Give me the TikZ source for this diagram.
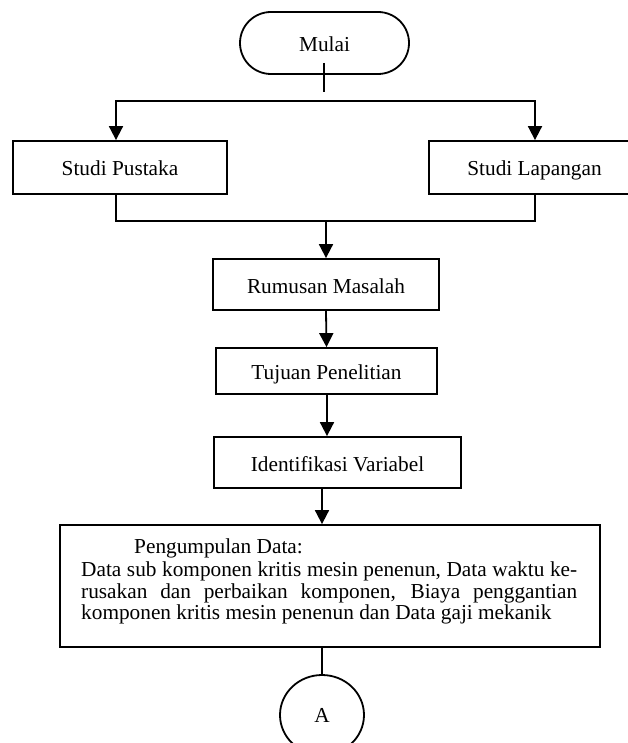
\documentclass[tikz,border=0pt]{standalone}
\usepackage{fontspec}
\setmainfont{Liberation Serif}
\usetikzlibrary{arrows.meta,shapes.geometric}
\newcommand\diagfs{\fontsize{21.3}{24}\selectfont}
\begin{document}
\begin{tikzpicture}[x=1pt,y=-1pt,
  every node/.style={font=\diagfs},
  box/.style={draw, line width=1.8pt, rectangle, inner sep=0pt, text height=19pt, text depth=2pt},
  conn/.style={line width=1.8pt},
  arr/.style={conn, -{Triangle[width=14pt,length=14pt]}},
  dblarr/.style={conn, {Triangle[width=14pt,length=14pt]}-{Triangle[width=14pt,length=14pt]}},
  txt/.style={anchor=base west, inner sep=0pt}
]
\useasboundingbox (0,0) rectangle (628,743);
% nodes
\node[box, rounded corners=31pt, minimum width=169pt, minimum height=62pt] (mulai) at (324.5,43) {Mulai};
\node[box, minimum width=214pt, minimum height=53pt] (sp) at (120,167.5) {Studi Pustaka};
\node[box, minimum width=211pt, minimum height=53pt] (sl) at (534.5,167.5) {Studi Lapangan};
\node[box, minimum width=226pt, minimum height=51pt] (rm) at (326,284.5) {Rumusan Masalah};
\node[box, minimum width=221pt, minimum height=46pt] (tj) at (326.5,371) {Tujuan Penelitian};
\node[box, minimum width=247pt, minimum height=51pt] (id) at (337.5,462.5) {Identifikasi Variabel};
\node[box, minimum width=540pt, minimum height=122pt] (pd) at (330,586) {};
\node[draw, line width=1.8pt, ellipse, minimum width=84pt, minimum height=80pt, inner sep=0pt] (a) at (322,715) {A};
% text of the data box
\node[txt] (t1) at (134,553) {Pengumpulan Data:};
\node[txt] (t2) at (81,576) {\makebox[496pt][s]{Data sub komponen kritis mesin penenun, Data waktu ke-}};
\node[txt] (t3) at (81,598) {\makebox[496pt][s]{rusakan dan perbaikan komponen, Biaya penggantian}};
\node[txt] (t4) at (81,619) {komponen kritis mesin penenun dan Data gaji mekanik};
% connectors
\coordinate (hl) at (116,101);
\coordinate (hr) at (535,101);
\coordinate (jn) at (326,221);
\draw[conn] ([xshift=-0.5pt,yshift=-20pt]mulai.center) -- ([xshift=-0.5pt,yshift=-49pt]mulai.center);
\draw[dblarr] (hl |- sp.north) -- (hl) -- (hr) -- (hr |- sl.north);
\draw[conn] (hl |- sp.south) -- (hl |- jn) -- (hr |- jn) -- ([yshift=2pt]hr |- sl.south);
\draw[arr] (jn) -- (rm.north);
\draw[arr] (rm.south) -- (tj.north);
\draw[arr] ([xshift=0.5pt]tj.south) -- ([xshift=0.5pt]tj.south |- id.north);
\draw[arr] (id.south -| a.north) -- (a.north |- pd.north);
\draw[conn] (pd.south -| a.north) -- (a.north);
\end{tikzpicture}
\end{document}
